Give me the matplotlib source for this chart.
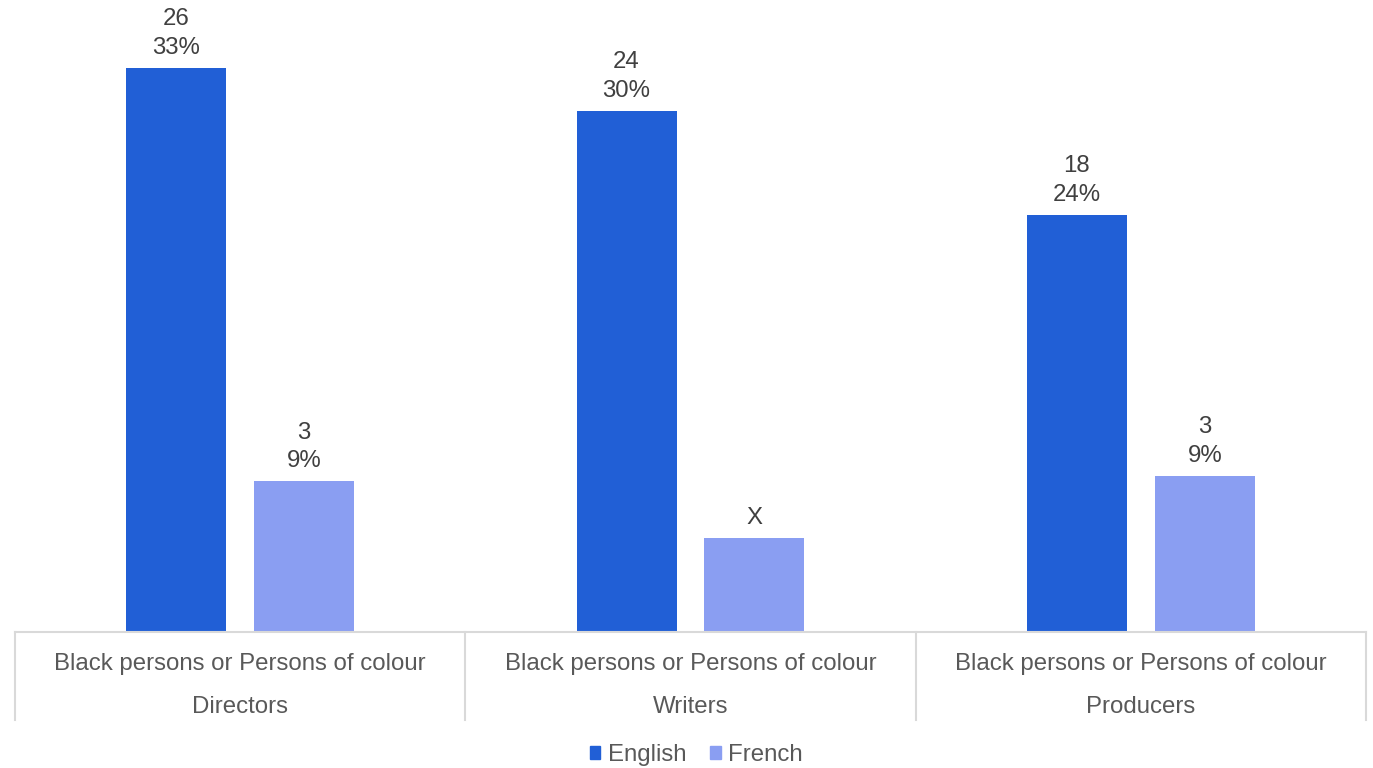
import matplotlib.pyplot as plt
from matplotlib.patches import Patch
import numpy as np

plt.rcParams['font.family'] = ['Liberation Sans', 'DejaVu Sans']

# data
roles = ["Directors", "Writers", "Producers"]
group_label = "Black persons or Persons of colour"
english_pct = [32.6, 30.1, 24.1]
french_pct = [8.7, 5.4, 9.0]
english_count = ["26", "24", "18"]
french_count = ["3", "X", "3"]
english_shown = ["33%", "30%", "24%"]
french_shown = ["9%", "", "9%"]

c_en = "#215FD6"
c_fr = "#8A9EF2"
grid_c = "#D9D9D9"
fs = 17.3

fig = plt.figure(figsize=(13.73, 7.68), dpi=100)
ax = fig.add_axes([15 / 1373, 1 - 632 / 768, 1351 / 1373, 632 / 768])

x = np.arange(len(roles))
w = 0.222
off = 0.142
b1 = ax.bar(x - off, english_pct, w, color=c_en)
b2 = ax.bar(x + off, french_pct, w, color=c_fr)

def put_labels(bars, counts, shown):
    for rect, c, s in zip(bars, counts, shown):
        txt = c if not s else c + "\n" + s
        ax.annotate(txt, (rect.get_x() + rect.get_width() / 2, rect.get_height()),
                    xytext=(0, 6.5), textcoords="offset points", ha="center", va="bottom",
                    fontsize=fs, color="#404040", linespacing=1.4)

put_labels(b1, english_count, english_shown)
put_labels(b2, french_count, french_shown)

ax.set_xlim(-0.5, 2.5)
ax.set_ylim(0, 36.5)
for s in ax.spines.values():
    s.set_visible(False)
ax.set_xticks([])
ax.set_yticks([])

# table-style category axis
tr = ax.get_xaxis_transform()
ax.plot([-0.5, 2.5], [0, 0], color=grid_c, lw=1.5, transform=tr, clip_on=False)
for xv in [-0.5, 0.5, 1.5, 2.5]:
    ax.plot([xv, xv], [0, -88 / 632], color=grid_c, lw=1.5, transform=tr, clip_on=False)
for i, r in enumerate(roles):
    ax.text(i, -32 / 632, group_label, transform=tr, ha="center", va="center",
            fontsize=fs, color="#595959")
    ax.text(i, -75 / 632, r, transform=tr, ha="center", va="center",
            fontsize=fs, color="#595959")

handles = [Patch(color=c_en, label="English"), Patch(color=c_fr, label="French")]
fig.legend(handles=handles, loc="center", bbox_to_anchor=(0.507, 1 - 755 / 768), ncol=2,
           frameon=False, fontsize=fs, handlelength=0.45, handleheight=0.45,
           handletextpad=0.3, columnspacing=1.0, labelcolor="#595959")

fig.savefig("out.png", dpi=100)
